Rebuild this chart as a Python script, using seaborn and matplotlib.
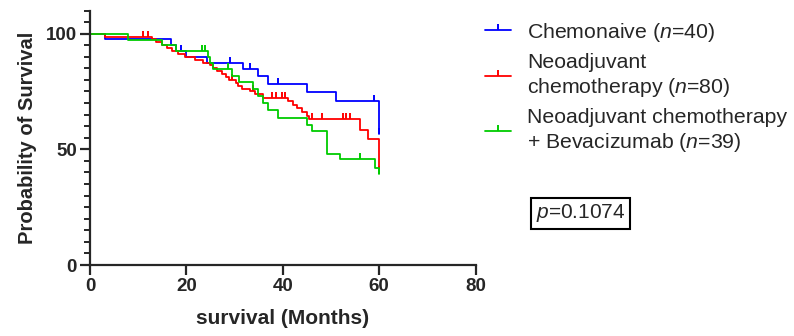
import numpy as np
import pandas as pd
import matplotlib
matplotlib.use('Agg')
import matplotlib.pyplot as plt
import seaborn as sns
from matplotlib.lines import Line2D
from matplotlib.ticker import MultipleLocator

# Kaplan-Meier steps (months, % surviving after the step)
chemo_naive_t = [0, 3.1, 16.9, 17.9, 19.9, 24.2, 31.8, 34.9, 37.0, 45.0, 51.0, 60.0]
chemo_naive_s = [100, 97.5, 95.0, 92.5, 90.0, 87.5, 84.7, 81.6, 78.4, 74.6, 70.9, 56.7]
chemo_naive_cens = [18.8, 29.0, 33.2, 39.1, 58.9, 60.0]

neo_t = [0, 3.1, 12.8, 13.8, 14.9, 16.0, 17.0, 18.3, 19.7, 21.8, 23.5, 24.9, 25.6,
         26.3, 27.3, 28.3, 28.9, 30.2, 30.8, 31.5, 33.2, 34.2, 35.9, 41.1, 42.2,
         42.9, 43.9, 45.0, 45.5, 56.0, 57.7, 60.0]
neo_s = [100, 98.75, 97.5, 96.25, 95.0, 93.75, 92.5, 91.25, 90.0, 88.75, 87.5, 86.25, 85.0,
         83.75, 82.5, 81.25, 80.0, 78.75, 77.5, 76.25, 75.0, 73.7, 72.3, 70.8, 69.3,
         67.8, 66.3, 64.5, 62.9, 58.5, 54.3, 40.0]
neo_cens = [11.1, 12.1, 29.4, 33.9, 37.7, 38.7, 39.8, 40.5, 46.0, 48.1, 52.5, 53.2, 53.9, 60.0]

bev_t = [0, 7.9, 14.9, 17.9, 24.5, 24.9, 25.6, 29.4, 30.9, 33.9, 34.9, 35.9, 37.0,
         39.1, 45.0, 46.0, 49.1, 51.9, 59.1, 60.0]
bev_s = [100, 97.4, 94.9, 92.3, 89.7, 87.1, 84.6, 81.9, 79.1, 76.2, 73.2, 70.1, 66.9,
         63.4, 60.7, 57.8, 48.0, 45.6, 42.1, 39.2]
bev_cens = [23.2, 23.9, 28.7, 56.0, 60.0]

labels = ['Chemonaive ($n$=40)',
          'Neoadjuvant\nchemotherapy ($n$=80)',
          'Neoadjuvant chemotherapy\n+ Bevacizumab ($n$=39)']
colors = ['#0000FF', '#FF0000', '#00CC00']
p_text = '$p$=0.1074'

sns.set_style('ticks')
plt.rcParams['font.family'] = ['Liberation Sans', 'DejaVu Sans']
plt.rcParams['mathtext.fontset'] = 'custom'
plt.rcParams['mathtext.rm'] = 'Liberation Sans'
plt.rcParams['mathtext.it'] = 'Liberation Sans:italic'

fig = plt.figure(figsize=(7.94, 3.36), dpi=100)
ax = fig.add_axes([90 / 794, 1 - 265 / 336, (475.5 - 90) / 794, (265 - 10.5) / 336])

groups = [(chemo_naive_t, chemo_naive_s, chemo_naive_cens),
          (neo_t, neo_s, neo_cens),
          (bev_t, bev_s, bev_cens)]

for (t, s, cens), col in zip(groups, colors):
    df = pd.DataFrame({'time': t, 'surv': s})
    sns.lineplot(data=df, x='time', y='surv', drawstyle='steps-post', color=col,
                 lw=1.3, estimator=None, sort=False, ax=ax)
    # censor ticks sit on the step curve
    idx = np.searchsorted(np.array(t), np.array(cens), side='right') - 1
    cs = np.array(s)[idx]
    ax.plot(cens, cs, ls='none', marker=2, ms=4, mew=1.4, color=col)

ax.set_xlim(0, 80)
ax.set_ylim(0, 110)
ax.set_xticks([0, 20, 40, 60, 80])
ax.set_yticks([0, 50, 100])
ax.yaxis.set_minor_locator(MultipleLocator(5))
sns.despine(ax=ax)
for sp in ['left', 'bottom']:
    ax.spines[sp].set_linewidth(1.6)
ax.tick_params(which='major', length=7.5, width=1.6, labelsize=13.5, pad=2)
ax.tick_params(which='minor', length=4, width=1.4)
for lab in ax.get_xticklabels() + ax.get_yticklabels():
    lab.set_fontweight('bold')

ax.set_xlabel('survival (Months)', fontsize=15, fontweight='bold', labelpad=10)
ax.set_ylabel('Probability of Survival', fontsize=14.5, fontweight='bold', labelpad=6)

handles = [Line2D([], [], color=c, lw=1.3, marker=2, ms=4, mew=1.4) for c in colors]
fig.legend(handles, labels, loc='upper left', bbox_to_anchor=(0.592, 0.982),
           frameon=False, fontsize=15.3, handlelength=1.25, handletextpad=0.75,
           labelspacing=0.45, borderaxespad=0.3)

fig.text(0.675, 0.365, p_text, fontsize=15, ha='left', va='center',
         bbox=dict(boxstyle='square,pad=0.22', fc='white', ec='black', lw=1.5))

fig.savefig('out.png', dpi=100)
